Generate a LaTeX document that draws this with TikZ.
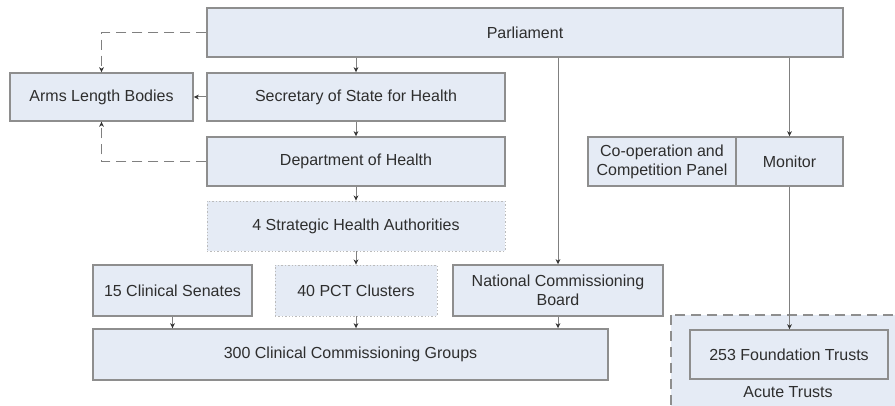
\documentclass[tikz,border=0pt]{standalone}
\usepackage{fontspec}
\setmainfont{Liberation Sans}
\usetikzlibrary{arrows.meta}
\usepackage{xcolor}

\definecolor{boxfill}{HTML}{E5EBF5}
\definecolor{boxline}{HTML}{8E8E8E}
\definecolor{txt}{HTML}{2E2E2E}

\tikzset{
  box/.style={draw=boxline, line width=0.7pt, fill=boxfill, inner sep=0pt,
    text=txt, align=center, font=\fontsize{8}{9.5}\selectfont},
  dotbox/.style={box, draw=boxline!60, densely dotted, line width=0.4pt},
  link/.style={draw=boxline!90!black, line width=0.5pt,
    -{Stealth[length=2.6pt, width=2.4pt, black!80]}},
  dashlink/.style={link, dash pattern=on 5pt off 3pt}
}

\begin{document}
\begin{tikzpicture}[x=0.5pt, y=-0.5pt]
\useasboundingbox (0,0) rectangle (895,406);
\clip (0,0) rectangle (895,406);

% acute trusts group behind the foundation trusts
\draw[draw=boxline, fill=boxfill, line width=0.7pt, dash pattern=on 5pt off 3pt]
  (671,315) rectangle (905,416);
\node[text=txt, font=\fontsize{8}{9.5}\selectfont] (acute) at (788,392) {Acute Trusts};

% boxes
\node[box, minimum width=318pt, minimum height=24.5pt] (parl) at (525,32.5) {Parliament};
\node[box, minimum width=149pt, minimum height=24pt] (sos) at (356,97) {Secretary of State for Health};
\node[box, minimum width=91.5pt, minimum height=24pt] (alb) at (101.5,97) {Arms Length Bodies};
\node[box, minimum width=149pt, minimum height=24.5pt] (doh) at (356,161.5) {Department of Health};
\node[dotbox, minimum width=149pt, minimum height=25pt] (sha) at (356,226) {4 Strategic Health Authorities};
\node[box, minimum width=79.5pt, minimum height=25.5pt] (cs) at (172.5,290.5) {15 Clinical Senates};
\node[dotbox, minimum width=81pt, minimum height=25.5pt] (pct) at (356,290.5) {40 PCT Clusters};
\node[box, minimum width=105pt, minimum height=25.5pt] (ncb) at (558,290.5) {National Commissioning\\Board};
\node[box, minimum width=257.5pt, minimum height=25.5pt] (ccg) at (350.5,354.5) {300 Clinical Commissioning Groups};
\node[box, minimum width=74pt, minimum height=24.5pt] (ccp) at (662,161.5) {Co-operation and\\Competition Panel};
\node[box, minimum width=53.5pt, minimum height=24.5pt] (mon) at (789.5,161.5) {Monitor};
\node[box, minimum width=99pt, minimum height=24.5pt] (fts) at (789,354.5) {253 Foundation Trusts};

% lines of accountability
\draw[link] (parl.south -| sos.north) -- (sos.north);
\draw[link] (sos) -- (doh);
\draw[link] (doh) -- (sha);
\draw[link] (sha) -- (pct);
\draw[link] (pct) -- (pct |- ccg.north);
\draw[link] (cs) -- (cs |- ccg.north);
\draw[link] (parl.south -| ncb.north) -- (ncb.north);
\draw[link] (ncb) -- (ncb |- ccg.north);
\draw[link] (parl.south -| mon.north) -- (mon.north);
\draw[link] (mon.south) -- (mon.south |- fts.north);

% arms length bodies
\draw[dashlink] (parl.west) -| (alb.north);
\draw[dashlink] (sos.west) -- (alb.east);
\draw[dashlink] (doh.west) -| (alb.south);
\end{tikzpicture}
\end{document}
